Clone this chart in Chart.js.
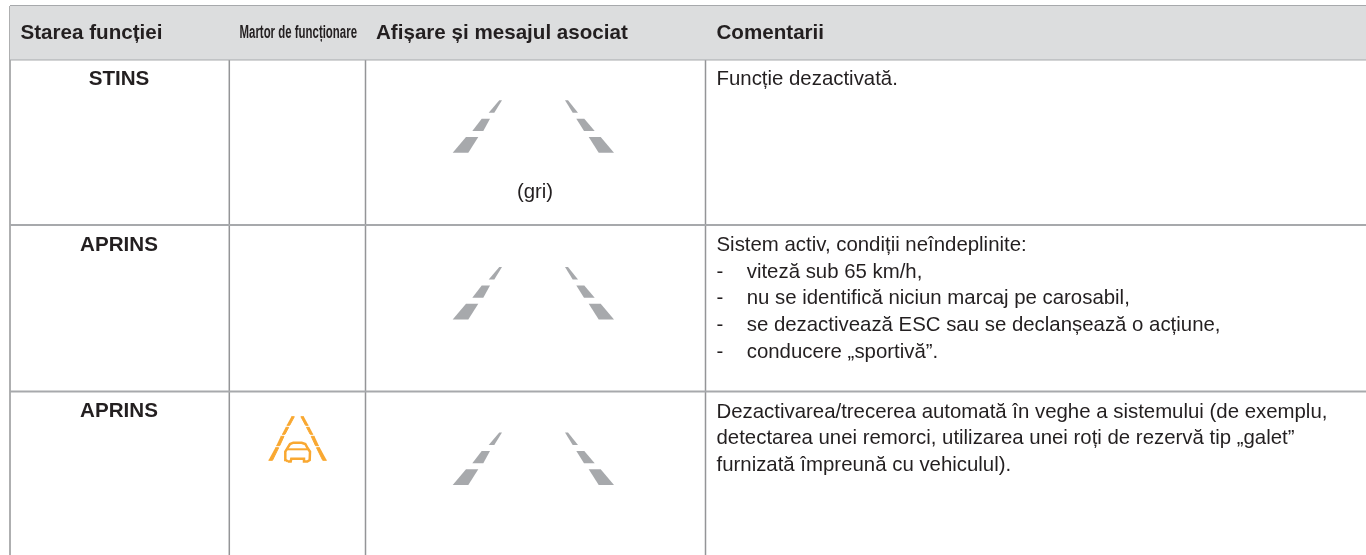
<!DOCTYPE html>
<html lang="ro">
<head>
<meta charset="utf-8">
<title>Starea funcției</title>
<script src="https://cdn.jsdelivr.net/npm/chart.js@4/dist/chart.umd.min.js"></script>
<style>
    html, body { margin: 0; padding: 0; background: #fff; overflow: hidden; }
    canvas { display: block; }
</style>
</head>
<body>
<canvas id="tableChart" width="1366" height="555"></canvas>
<script>
// Table content
const headers = ['Starea funcției', 'Martor de funcționare', 'Afișare și mesajul asociat', 'Comentarii'];
const states = ['STINS', 'APRINS', 'APRINS'];
const displayNote = '(gri)';
const comments = [
    ['Funcție dezactivată.'],
    ['Sistem activ, condiții neîndeplinite:'],
    ['Dezactivarea/trecerea automată în veghe a sistemului (de exemplu,',
     'detectarea unei remorci, utilizarea unei roți de rezervă tip „galet”',
     'furnizată împreună cu vehiculul).']
];
const bulletLines = ['viteză sub 65 km/h,', 'nu se identifică niciun marcaj pe carosabil,',
    'se dezactivează ESC sau se declanșează o acțiune,', 'conducere „sportivă”.'];

// Table frame, in picture units
const columnEdges = [10, 229.3, 365.5, 705.5, 1366];
const rowEdges = [6, 59.5, 225, 391.5, 555];
const stateBaselines = [85, 251, 417];
const commentBaselines = [85, 251, 417.5];

// Lane marking, first row; the other rows repeat it lower down
const laneRowOffsets = [0, 166.7, 332.3];
const laneDashes = [
    [[452.7, 152.7], [468.3, 152.7], [478.3, 137], [466, 137]],
    [[472.3, 131], [483.3, 131], [490, 118.7], [481.7, 118.7]],
    [[488.7, 112.7], [494.3, 112.7], [502, 100.3], [499.3, 100.3]],
    [[565, 100.3], [568, 100.3], [578, 112.7], [572.7, 112.7]],
    [[576.3, 118.7], [584.3, 118.7], [594.7, 131], [584, 131]],
    [[588.7, 137], [600.7, 137], [614, 152.7], [598.7, 152.7]]
];

// Warning lamp in the third row
const lampDashes = [
    [[268.5, 460.3], [272.5, 460.3], [278.7, 447.7], [275.3, 447.7]],
    [[276.3, 445.7], [279.7, 445.7], [284, 436.3], [280.7, 436.3]],
    [[282, 434.3], [285, 434.3], [288.7, 427.3], [285.7, 427.3]],
    [[286.7, 425.3], [289.7, 425.3], [294.3, 416.7], [291.3, 416.7]],
    [[326.7, 460.3], [322.7, 460.3], [316.5, 447.7], [319.9, 447.7]],
    [[318.9, 445.7], [315.5, 445.7], [311.2, 436.3], [314.5, 436.3]],
    [[313.2, 434.3], [310.2, 434.3], [306.5, 427.3], [309.5, 427.3]],
    [[308.5, 425.3], [305.5, 425.3], [300.9, 416.7], [303.9, 416.7]]
];
const carOutline = [[288, 461.5], [285.7, 460], [285.3, 451.7], [287.3, 448.3], [290, 444], [293.3, 442.7],
    [301.7, 442.7], [305.3, 444], [307.7, 448.3], [310, 451.7], [309.7, 460], [307.3, 461.5], [304.7, 461.5],
    [304, 458.7], [291.3, 458.7], [290.7, 461.5], [288, 461.5]];
const carWindow = [[287.3, 449.3], [307.7, 449.3]];

const ROW_LINE = '#a7a9ac';
const COL_LINE = '#949597';
const TEXT = '#231f20';
const GREY = '#a7a9ac';
const ORANGE = '#f9a831';

const toPoints = list => list.map(p => ({ x: p[0], y: p[1] }));

function shape(points, color, edge) {
    return { data: toPoints(points), showLine: true, fill: 'shape', backgroundColor: color,
        borderColor: color, borderWidth: edge || 0, pointRadius: 0, tension: 0 };
}
function stroke(points, color, width) {
    return { data: toPoints(points), showLine: true, fill: false, borderColor: color,
        borderWidth: width, pointRadius: 0, tension: 0 };
}

const datasets = [];
// header band
datasets.push(shape([[columnEdges[0], rowEdges[0]], [columnEdges[4], rowEdges[0]],
    [columnEdges[4], rowEdges[1]], [columnEdges[0], rowEdges[1]]], '#dcddde'));
// rules
rowEdges.slice(0, 4).forEach(y => datasets.push(stroke([[columnEdges[0], y], [columnEdges[4], y]], ROW_LINE, 2)));
columnEdges.slice(0, 4).forEach(x => datasets.push(stroke([[x, rowEdges[0]], [x, rowEdges[4]]], COL_LINE, 1.5)));
// lanes
laneRowOffsets.forEach(off => laneDashes.forEach(d =>
    datasets.push(shape(d.map(p => [p[0], p[1] + off]), GREY))));
// lamp
lampDashes.forEach(d => datasets.push(shape(d, ORANGE, 1)));
datasets.push(stroke(carOutline, ORANGE, 2.5));
datasets.push(stroke(carWindow, ORANGE, 2));

// Text goes through the same scales as the marks
const tableText = {
    id: 'tableText',
    afterDatasetsDraw(chart) {
        const { ctx, scales: { x, y } } = chart;
        const put = (str, px, py, font, align, maxWidth) => {
            ctx.font = font;
            ctx.textAlign = align || 'left';
            if (maxWidth) ctx.fillText(str, x.getPixelForValue(px), y.getPixelForValue(py), maxWidth);
            else ctx.fillText(str, x.getPixelForValue(px), y.getPixelForValue(py));
        };
        const body = '20.4px "Liberation Sans", Arial, sans-serif';
        const bold = 'bold 20.6px "Liberation Sans", Arial, sans-serif';
        ctx.save();
        ctx.fillStyle = TEXT;
        ctx.textBaseline = 'alphabetic';

        put(headers[0], 20.5, 38.5, bold);
        put(headers[1], 239.5, 38, 'bold 18px "Liberation Sans", Arial, sans-serif', 'left', 117.5);
        put(headers[2], 376, 38.5, bold);
        put(headers[3], 716.5, 38.5, bold);

        states.forEach((s, i) => put(s, 119, stateBaselines[i], bold, 'center'));
        put(displayNote, 535, 197.5, body, 'center');

        comments.forEach((lines, i) => lines.forEach((l, j) =>
            put(l, 716.5, commentBaselines[i] + j * 26.5, body)));
        bulletLines.forEach((l, j) => {
            put('-', 716.5, 277.7 + j * 26.6, body);
            put(l, 746.7, 277.7 + j * 26.6, body);
        });
        ctx.restore();
    }
};

new Chart(document.getElementById('tableChart').getContext('2d'), {
    type: 'scatter',
    data: { datasets: datasets },
    options: {
        responsive: false,
        animation: false,
        layout: { padding: 0 },
        scales: {
            x: { type: 'linear', display: false, min: 0, max: 1366 },
            y: { type: 'linear', display: false, min: 0, max: 555, reverse: true }
        },
        plugins: { legend: { display: false }, tooltip: { enabled: false }, title: { display: false } }
    },
    plugins: [tableText]
});
</script>
</body>
</html>
